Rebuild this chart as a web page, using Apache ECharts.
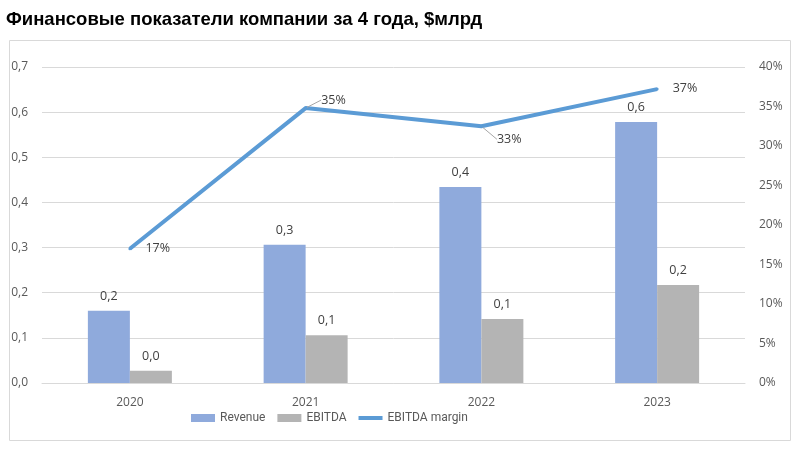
<!DOCTYPE html>
<html><head><meta charset="utf-8">
<script src="https://cdn.jsdelivr.net/npm/echarts@6/dist/echarts.min.js"></script>
<style>html,body{margin:0;padding:0;background:#fff}#c{width:796px;height:452px}</style>
</head><body><div id="c"></div>
<script>
var categories = ['2020', '2021', '2022', '2023'];
var revenue = [0.160, 0.306, 0.434, 0.578];
var ebitda = [0.027, 0.106, 0.142, 0.217];
var margin = [17.0, 34.8, 32.5, 37.2];
var leftTicks = [0, 0.7, 0.1];
var rightTicks = [0, 40, 5];

var font = '"Open Sans", "Liberation Sans", sans-serif';
var chart = echarts.init(document.getElementById('c'), null, {renderer: 'canvas'});
function comma(v, d) { return v.toFixed(d).replace('.', ','); }
var marginDy = [0, -8, 13, -1];
var marginLine = [false, true, true, false];
chart.setOption({
  animation: false,
  textStyle: {fontFamily: font},
  title: {
    text: 'Финансовые показатели компании за 4 года, $млрд',
    left: 6, top: 10, padding: 0,
    textStyle: {fontFamily: '"Liberation Sans", Arial, sans-serif', fontWeight: 'bold', fontSize: 18.5, color: '#000'}
  },
  graphic: [{
    type: 'rect', left: 7, top: 38, shape: {width: 781, height: 400},
    style: {fill: 'none', stroke: '#D9D9D9', lineWidth: 1}, silent: true, z: -1
  }],
  legend: {
    top: 407, left: 186,
    itemWidth: 24, itemHeight: 8, itemGap: 12,
    textStyle: {color: '#595959', fontSize: 12, fontFamily: 'Roboto, "Open Sans", sans-serif'},
    data: [
      {name: 'Revenue', icon: 'rect'},
      {name: 'EBITDA', icon: 'rect'},
      {name: 'EBITDA margin', icon: 'path://M0,0 L24,0 L24,4 L0,4 Z'}
    ]
  },
  grid: {left: 42, right: 51, top: 67, bottom: 69},
  xAxis: {
    type: 'category', data: categories,
    axisLine: {lineStyle: {color: '#D9D9D9'}},
    axisTick: {show: false},
    axisLabel: {color: '#595959', fontSize: 12, margin: 14}
  },
  yAxis: [{
    type: 'value', min: leftTicks[0], max: leftTicks[1], interval: leftTicks[2],
    axisLabel: {color: '#595959', fontSize: 12, margin: 14, formatter: function (v) { return comma(v, 1); }},
    splitLine: {lineStyle: {color: '#D9D9D9'}},
    axisLine: {show: false}, axisTick: {show: false}
  }, {
    type: 'value', min: rightTicks[0], max: rightTicks[1], interval: rightTicks[2],
    axisLabel: {color: '#595959', fontSize: 12, margin: 14, formatter: function (v) { return v + '%'; }},
    splitLine: {show: false},
    axisLine: {show: false}, axisTick: {show: false}
  }],
  series: [{
    name: 'Revenue', type: 'bar', data: revenue, barWidth: 42, barGap: '0%',
    itemStyle: {color: '#8FAADC'},
    label: {show: true, position: 'top', distance: 8, color: '#404040', fontSize: 12.5,
      formatter: function (p) { return comma(p.value, 1); }}
  }, {
    name: 'EBITDA', type: 'bar', data: ebitda, barWidth: 42, barGap: '0%',
    itemStyle: {color: '#B4B4B4'},
    label: {show: true, position: 'top', distance: 8, color: '#404040', fontSize: 12.5,
      formatter: function (p) { return comma(p.value, 1); }}
  }, {
    name: 'EBITDA margin', type: 'line', yAxisIndex: 1,
    data: margin.map(function (v, i) {
      return {value: v, labelLine: {show: marginLine[i]}};
    }),
    symbol: 'circle', symbolSize: 3, showSymbol: true,
    lineStyle: {color: '#5B9BD5', width: 4}, itemStyle: {color: '#5B9BD5'},
    label: {show: true, position: 'right', distance: 14, color: '#404040', fontSize: 12.5,
      formatter: function (p) { return Math.round(p.value) + '%'; }},
    labelLine: {show: false, lineStyle: {color: '#A6A6A6', width: 1}},
    labelLayout: function (params) {
      return {dy: marginDy[params.dataIndex]};
    },
    z: 5
  }]
});
</script></body></html>
